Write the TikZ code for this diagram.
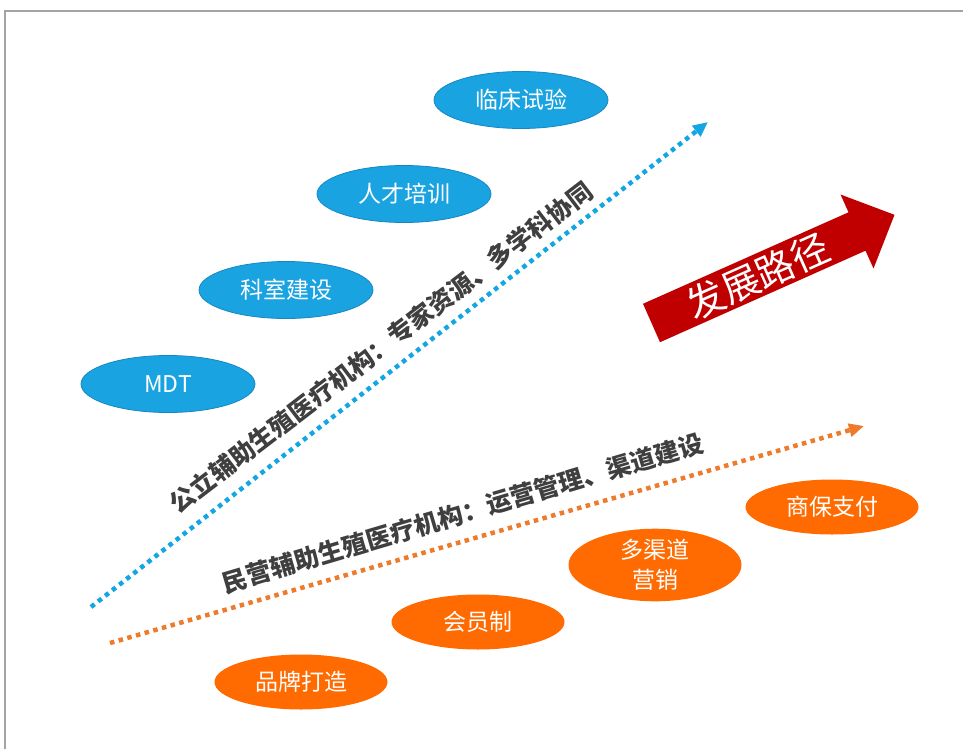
\documentclass[tikz,border=0pt]{standalone}
\usepackage{fontspec}
\setmainfont{Noto Sans CJK SC}
\usetikzlibrary{arrows.meta,shapes.geometric}

\definecolor{pubblue}{HTML}{1AA3E1}
\definecolor{pubedge}{HTML}{1787C4}
\definecolor{dotblue}{HTML}{12A6E3}
\definecolor{privorange}{HTML}{FF6B00}
\definecolor{dotorange}{HTML}{EE7A2C}
\definecolor{pathred}{HTML}{C00000}
\definecolor{labelgray}{HTML}{3F3F3F}
\definecolor{framegray}{HTML}{A3A3A3}

\tikzset{
  pubitem/.style={ellipse, fill=pubblue, draw=pubedge, line width=0.8pt,
    minimum width=174pt, minimum height=57pt, inner sep=0pt,
    text=white, font=\fontsize{23}{27}\selectfont},
  privitem/.style={ellipse, fill=privorange, draw=none,
    minimum width=173pt, minimum height=55pt, inner sep=0pt,
    text=white, align=center, font=\fontsize{23}{30}\selectfont},
  dotline/.style={line width=4.5pt, dash pattern=on 4.5pt off 4.5pt,
    -{Triangle[length=15pt,width=13pt]}},
  trackLabel/.style={text=labelgray, inner sep=0pt,
    font=\fontsize{25}{30}\selectfont\bfseries}
}

\begin{document}
\begin{tikzpicture}[x=1pt, y=-1pt]
\useasboundingbox (0,0) rectangle (963,749);
\fill[white] (0,0) rectangle (963,749);

% page frame (top and left edges)
\draw[framegray, line width=2pt] (5,749) -- (5,11) -- (963,11);

% public institutions track
\node[pubitem] (mdt) at (168,384) {MDT};
\node[pubitem] (dept) at (286,290) {科室建设};
\node[pubitem] (talent) at (404,194) {人才培训};
\node[pubitem] (trial) at (521,100) {临床试验};

\coordinate (pubstart) at (91,607);
\coordinate (pubend) at (708,122);
\draw[dotblue, dotline] (pubstart) -- (pubend);
\node[trackLabel, rotate=37.5] (publabel) at (381,347)
  {公立辅助生殖医疗机构：专家资源、多学科协同};

% private institutions track
\node[privitem] (brand) at (301,682) {品牌打造};
\node[privitem] (member) at (478,622) {会员制};
\node[privitem] (channel) at (655,565) {多渠道\\营销};
\node[privitem] (insure) at (832,507) {商保支付};

\coordinate (privstart) at (110,643);
\coordinate (privend) at (864,426);
\draw[dotorange, dotline] (privstart) -- (privend);
\node[trackLabel, rotate=16.5] (privlabel) at (463,513)
  {民营辅助生殖医疗机构：运营管理、渠道建设};

% development path arrow
\fill[pathred] (643,303.8) -- (848.5,212.3) -- (840.5,194.5) -- (894.5,214.8)
  -- (873.5,268.5) -- (865.5,250.7) -- (660,342.2) -- cycle;
\node[text=white, rotate=24, inner sep=0pt,
  font=\fontsize{38}{40}\selectfont] (pathlabel) at (758,276) {发展路径};
\end{tikzpicture}
\end{document}
